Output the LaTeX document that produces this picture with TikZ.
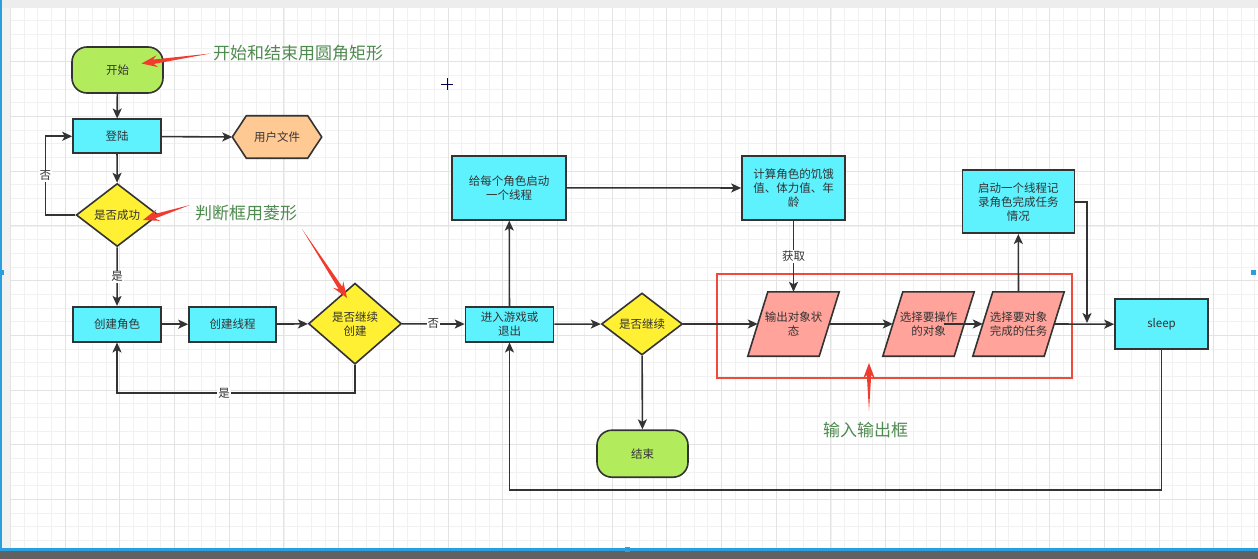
\documentclass[tikz,border=0pt]{standalone}
\usepackage{fontspec}
\setmainfont{Noto Sans CJK SC}
\usetikzlibrary{arrows.meta,calc,shapes.geometric}
\pgfdeclarelayer{back}
\pgfdeclarelayer{bg}
\pgfsetlayers{back,bg,main}
\definecolor{cgreen}{HTML}{B2EC5D}
\definecolor{ccyan}{HTML}{5EF2FF}
\definecolor{cyellow}{HTML}{FFF034}
\definecolor{corange}{HTML}{FFC994}
\definecolor{cpink}{HTML}{FFA39B}
\definecolor{lc}{HTML}{333333}
\definecolor{txt}{HTML}{333333}
\definecolor{framered}{HTML}{EE4B3B}
\definecolor{annred}{HTML}{F03C2E}
\definecolor{anngreen}{HTML}{4F8A50}
\definecolor{gminor}{HTML}{F1F1F1}
\definecolor{gmajor}{HTML}{E3E3E3}
\definecolor{uiblue}{HTML}{2A9FE0}
\newcommand{\nf}{\fontsize{11.5}{14}\selectfont}
\newcommand{\af}{\fontsize{17}{20}\selectfont}
\newcommand{\annarrow}[3]{%
  \coordinate (#1m1) at ($(#3)!12pt!(#2)$);
  \coordinate (#1m2) at ($(#3)!16pt!(#2)$);
  \fill[annred] (#2) -- ($(#1m1)!2.2pt!90:(#2)$) -- ($(#1m2)!6pt!90:(#2)$) -- (#3)
     -- ($(#1m2)!6pt!-90:(#2)$) -- ($(#1m1)!2.2pt!-90:(#2)$) -- cycle;}
\tikzset{
  base/.style={line width=1.6pt, draw=lc, inner sep=0pt, align=center, font=\nf, text=txt},
  box/.style={base, rectangle, fill=ccyan},
  term/.style={base, rectangle, rounded corners=15pt, fill=cgreen},
  decision/.style={base, diamond, fill=cyellow},
  anchorbox/.style={rectangle, inner sep=0pt, align=center, font=\nf, text=txt},
  shapeline/.style={line width=1.6pt, draw=lc},
  arr/.style={line width=1.6pt, draw=lc, -{Stealth[length=10pt,width=9pt,inset=2.5pt]}},
  lbl/.style={fill=white, inner sep=1pt, font=\nf, text=txt},
  ann/.style={font=\af, text=anngreen, inner sep=0pt, anchor=west},
  frame/.style={line width=1.8pt, draw=framered}
}
\begin{document}
\begin{tikzpicture}[x=1pt,y=-1pt]
\useasboundingbox (0,0) rectangle (1258,559);
\begin{pgfonlayer}{back}
% background and grid
\fill[white] (0,0) rectangle (1258,559);
\foreach \k in {0,...,91} \draw[gminor, line width=0.6pt] ({10.3+13.675*\k},8) -- ({10.3+13.675*\k},548);
\foreach \k in {0,...,39} \draw[gminor, line width=0.6pt] (10,{7+13.675*\k}) -- (1258,{7+13.675*\k});
\foreach \k in {0,...,22} \draw[gmajor, line width=0.7pt] ({10.3+54.7*\k},8) -- ({10.3+54.7*\k},548);
\foreach \k in {0,...,9} \draw[gmajor, line width=0.7pt] (10,{7+54.7*\k}) -- (1258,{7+54.7*\k});
\fill[black!7] (0,0) rectangle (1258,8);
\fill[black!5] (0,8) rectangle (10,548);
\fill[uiblue] (0,0) rectangle (2,548);
\fill[black!62] (0,550) rectangle (1258,559);
\fill[uiblue] (0,548) rectangle (1258,550.5);
\fill[uiblue] (0,270) rectangle (4,275);
\fill[uiblue] (1251,270) rectangle (1256,275);
\fill[uiblue] (625,547) rectangle (630,552);
% cursor
\draw[black!70!blue, line width=0.8pt] (441,84) -- (453,84) (447,78) -- (447,90);
\end{pgfonlayer}

% ---------- nodes ----------
\node[term, minimum width=91pt, minimum height=46pt] (start) at (117.5,70) {开始};
\node[box, minimum width=88pt, minimum height=34pt] (login) at (117,136.3) {登陆};
\node[anchorbox, minimum width=89pt, minimum height=42pt] (ufile) at (277,137) {用户文件};
\node[decision, minimum width=82pt, minimum height=63pt] (d1) at (117.2,215) {是否成功};
\node[box, minimum width=88pt, minimum height=35pt] (role) at (117,324.2) {创建角色};
\node[box, minimum width=87pt, minimum height=35pt] (thread) at (232.5,324.2) {创建线程};
\node[decision, minimum width=93pt, minimum height=81pt] (d2) at (355,323.7) {是否继续\\创建};
\node[box, minimum width=88pt, minimum height=35pt] (enter) at (509.5,324.2) {进入游戏或\\退出};
\node[box, minimum width=114pt, minimum height=64pt] (give) at (509.2,187.8) {给每个角色启动\\一个线程};
\node[decision, minimum width=81pt, minimum height=62pt] (d3) at (642,324) {是否继续};
\node[term, minimum width=91pt, minimum height=47pt] (end) at (642.5,453.7) {结束};
\node[box, minimum width=103pt, minimum height=64pt] (calc) at (793.5,188) {计算角色的饥饿\\值、体力值、年\\龄};
\node[anchorbox, minimum width=71pt, minimum height=64pt] (s1) at (793.5,324) {输出对象状\\态};
\node[anchorbox, minimum width=71pt, minimum height=64pt] (s2) at (928.5,324) {选择要操作\\的对象};
\node[anchorbox, minimum width=71pt, minimum height=64pt] (s3) at (1018.5,324) {选择要对象\\完成的任务};
\node[box, minimum width=112pt, minimum height=63pt] (rec) at (1018.3,201.7) {启动一个线程记\\录角色完成任务\\情况};
\node[box, minimum width=93pt, minimum height=50pt] (sleep) at (1161.5,324.2) {sleep};

\begin{pgfonlayer}{bg}
  \filldraw[shapeline, fill=corange] (ufile.west) -- ([xshift=14pt]ufile.north west) -- ([xshift=-14pt]ufile.north east)
     -- (ufile.east) -- ([xshift=-14pt]ufile.south east) -- ([xshift=14pt]ufile.south west) -- cycle;
  \foreach \n in {s1,s2,s3}
    \filldraw[shapeline, fill=cpink] ([xshift=-10pt]\n.south west) -- ([xshift=-10pt]\n.south east)
       -- ([xshift=10pt]\n.north east) -- ([xshift=10pt]\n.north west) -- cycle;
\end{pgfonlayer}

% red frame
\draw[frame] (717,274) rectangle (1072,378);

% ---------- connectors ----------
\draw[arr] (start) -- (login);
\draw[arr] (login) -- (ufile.west);
\draw[arr] (login) -- (d1);
\draw[arr] (d1.west) -- ++(-30,0) |- node[lbl, pos=0.25] {否} (login.west);
\draw[arr] (d1) -- node[lbl] {是} (role);
\draw[arr] (role) -- (thread);
\draw[arr] (thread) -- (d2);
\draw[arr] (d2.south) -- ++(0,28) -| node[lbl, pos=0.275] {是} (role.south);
\draw[arr] (d2) -- node[lbl] {否} (enter);
\draw[arr] (enter) -- (give);
\draw[arr] (give) -- (calc);
\draw[arr] (calc) -- node[lbl] {获取} (s1.north);
\draw[arr] (enter) -- (d3);
\draw[arr] (d3) -- (s1.west);
\draw[arr] (d3) -- (end);
\draw[arr] (s1.east) -- (s2.west);
\draw[arr] ([xshift=15pt]s2.center) -- (s3.west);
\draw[arr] (s3.north) -- (rec.south);
\draw[arr] (s3.east) -- (sleep.west);
\coordinate (join) at (1087,324);
\draw[arr] (rec.east) -| ([yshift=1pt]join);
\draw[arr] (sleep.south) -- ++(0,140) -| (enter.south);

% ---------- annotations ----------
\node[ann] (t1) at (213,53) {开始和结束用圆角矩形};
\node[ann] (t2) at (195,213) {判断框用菱形};
\node[ann] (t3) at (823,430) {输入输出框};
\coordinate (a1t) at (210.5,53.5); \coordinate (a1h) at (141.5,63.5);
\coordinate (a2t) at (190,205);   \coordinate (a2h) at (143,220);
\coordinate (a3t) at (302,229);   \coordinate (a3h) at (347,298);
\coordinate (a4t) at (869,411);   \coordinate (a4h) at (869,363);
\annarrow{a1}{a1t}{a1h}
\annarrow{a2}{a2t}{a2h}
\annarrow{a3}{a3t}{a3h}
\annarrow{a4}{a4t}{a4h}
\end{tikzpicture}
\end{document}
